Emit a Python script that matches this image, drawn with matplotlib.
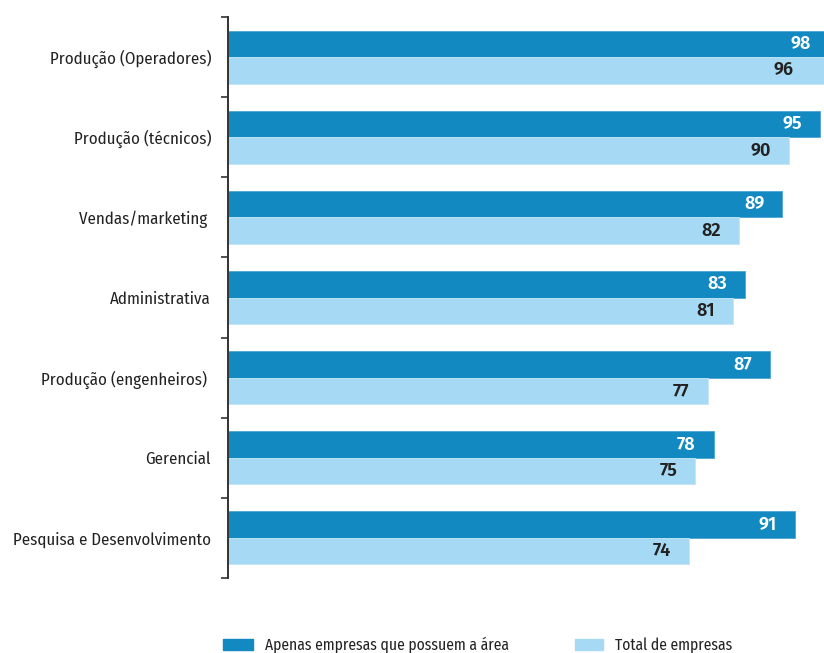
import matplotlib
matplotlib.use("Agg")
import matplotlib.pyplot as plt
from matplotlib.patches import Rectangle
from matplotlib import font_manager

categories = ["Produção (Operadores)", "Produção (técnicos)", "Vendas/marketing ",
              "Administrativa", "Produção (engenheiros) ", "Gerencial",
              "Pesquisa e Desenvolvimento"]
apenas = [98, 95, 89, 83, 87, 78, 91]
total = [96, 90, 82, 81, 77, 75, 74]
series_names = ["Apenas empresas que possuem a área", "Total de empresas"]

dark = "#1289C0"
light = "#A6DAF4"

names = {f.name for f in font_manager.fontManager.ttflist}
fam = "DejaVu Sans"
for cand in ["Fira Sans Condensed", "Barlow Semi Condensed", "Asap Condensed", "Archivo Narrow"]:
    if cand in names:
        fam = cand
        break
numfam = "Fira Sans" if "Fira Sans" in names else fam
plt.rcParams['font.family'] = [fam, 'DejaVu Sans']

W, H = 824, 653
fig = plt.figure(figsize=(W/100, H/100), dpi=100)
top_px, bot_px = 17, 578
ax = fig.add_axes([228/W, 1 - bot_px/H, 623/W, (bot_px - top_px)/H])

n = len(categories)
ys = list(range(n))
bh = 0.33
ax.barh([y - bh/2 for y in ys], apenas, height=bh, color=dark, edgecolor="#4aa6d2", linewidth=0.6)
ax.barh([y + bh/2 for y in ys], total, height=bh, color=light, edgecolor="#c4e6f7", linewidth=0.6)

ax.set_xlim(0, 100)
ax.set_ylim(n - 0.5, -0.5)

for y, v in zip(ys, apenas):
    xv = min(v, 96.5)
    ax.text(xv - 2.9, y - bh/2, str(v), ha="right", va="center", color="white",
            fontsize=13, fontweight="semibold", family=[numfam, fam])
for y, v in zip(ys, total):
    xv = min(v, 93.6)
    ax.text(xv - 2.9, y + bh/2, str(v), ha="right", va="center", color="#222222",
            fontsize=13, fontweight="semibold", family=[numfam, fam])

ax.set_yticks(ys)
ax.set_yticklabels(categories, fontsize=12.1, color="#222222")
ax.tick_params(axis="y", which="major", length=0, pad=12.2)
ax.set_yticks([y - 0.5 for y in range(n + 1)], minor=True)
ax.tick_params(axis="y", which="minor", length=5, width=1.2, color="#333333", direction="out")
ax.set_xticks([])
for s in ["top", "right", "bottom"]:
    ax.spines[s].set_visible(False)
ax.spines["left"].set_color("#333333")
ax.spines["left"].set_linewidth(1.4)

# legend
def px2fig(x, y):
    return x / W, 1 - y / H
for (x0, wpx, xt, col, label) in [(223, 30, 265, dark, series_names[0]),
                                  (575, 28, 615, light, series_names[1])]:
    fx, fy = px2fig(x0, 650)
    fig.patches.append(Rectangle((fx, fy), wpx/W, 11/H, transform=fig.transFigure,
                                 color=col, zorder=5))
    tx, ty = px2fig(xt, 645)
    fig.text(tx, ty, label, ha="left", va="center", fontsize=11.2, color="#222222")

fig.savefig("out.png", dpi=100)
